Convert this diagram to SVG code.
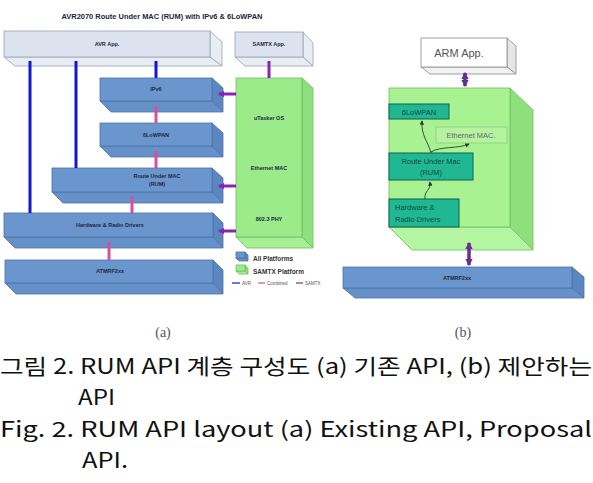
<svg xmlns="http://www.w3.org/2000/svg" width="593" height="483" viewBox="0 0 593 483">
<defs>
<style>
.bf{fill:#6B95CD;stroke:#4C73AA;stroke-width:0.8}
.bs{fill:#5C86BF;stroke:#4C73AA;stroke-width:0.8}
.bb{fill:#6690C8;stroke:#4C73AA;stroke-width:0.8}
.gf{fill:#DDE3EE;stroke:#9AA3B3;stroke-width:0.8}
.gs{fill:#E8ECF3;stroke:#9AA3B3;stroke-width:0.8}
.lf{fill:#9BEB8B;stroke:#6FBF62;stroke-width:0.8}
.ls{fill:#8EDF7E;stroke:#6FBF62;stroke-width:0.8}
.lb{fill:#A6F096;stroke:#6FBF62;stroke-width:0.8}
.t{font-family:"Liberation Sans",Arial,sans-serif;font-weight:bold;font-size:5.5px;fill:#1E2640;text-anchor:middle}
.lg{font-family:"Liberation Sans",Arial,sans-serif;font-weight:bold;font-size:6.5px;fill:#333}
.ls2{font-family:"Liberation Sans",Arial,sans-serif;font-size:4.5px;fill:#555}
.avr{stroke:#1414D2;stroke-width:3;fill:none}
.cmb{stroke:#D4509A;stroke-width:3;fill:none}
.sam{stroke:#8A22B4;stroke-width:3;fill:none}
.pf{fill:#A8F292;stroke:#6FBF62;stroke-width:0.8}
.ps{fill:#8FE07C;stroke:#6FBF62;stroke-width:0.8}
.pb{fill:#B3F5A0;stroke:#6FBF62;stroke-width:0.8}
.tl{fill:#20B893;stroke:#10604E;stroke-width:1}
.tt{font-family:"Liberation Sans",Arial,sans-serif;font-size:7.5px;fill:#0E4A3C}
.cv{stroke:#2A3A30;stroke-width:0.9;fill:none;marker-end:url(#ah)}
.pa{stroke:#6A2D90;stroke-width:3.5;fill:none;marker-start:url(#pa1);marker-end:url(#pa2)}
.cap{font-family:"Noto Sans CJK KR","Liberation Sans",sans-serif;font-size:21px;fill:#111}
.sub{font-family:"Liberation Serif","DejaVu Serif",serif;font-size:14px;fill:#555;text-anchor:middle}
</style>
<marker id="ah" viewBox="0 0 6 6" refX="5" refY="3" markerWidth="5" markerHeight="5" orient="auto"><path d="M0,0 L6,3 L0,6 z" fill="#2A3A30"/></marker>
<marker id="pa1" viewBox="0 0 6 6" refX="1" refY="3" markerWidth="2.2" markerHeight="2.2" orient="auto"><path d="M6,0 L0,3 L6,6 z" fill="#6A2D90"/></marker>
<marker id="pa2" viewBox="0 0 6 6" refX="5" refY="3" markerWidth="2.2" markerHeight="2.2" orient="auto"><path d="M0,0 L6,3 L0,6 z" fill="#6A2D90"/></marker>
<marker id="sa" viewBox="0 0 6 6" refX="1" refY="3" markerWidth="2" markerHeight="2" orient="auto"><path d="M6,0 L0,3 L6,6 z" fill="#8A22B4"/></marker>
</defs>
<rect width="593" height="483" fill="#fff"/>

<!-- (a) -->
<text x="162" y="19" class="t" style="font-size:6.5px" textLength="201" lengthAdjust="spacingAndGlyphs">AVR2070 Route Under MAC (RUM) with IPv6 &amp; 6LoWPAN</text>

<g id="avr-app">
<polygon class="gs" points="210,31 222,42 222,66 210,57"/>
<polygon class="gs" points="4,57 210,57 222,66 15,66"/>
<rect class="gf" x="4" y="31" width="206" height="26"/>
<text class="t" x="107" y="46">AVR App.</text>
</g>
<g id="samtx-app">
<polygon class="gs" points="303,32 313,43 313,66 303,57"/>
<polygon class="gs" points="235,57 303,57 313,66 245,66"/>
<rect class="gf" x="235" y="32" width="68" height="25"/>
<text class="t" x="269" y="46">SAMTX App.</text>
</g>
<g id="ipv6">
<polygon class="bs" points="212,78 223,88 223,112 212,101"/>
<polygon class="bb" points="100,101 212,101 223,112 111,112"/>
<rect class="bf" x="100" y="78" width="112" height="23"/>
<text class="t" x="156" y="91">IPv6</text>
</g>
<g id="sixlowpan">
<polygon class="bs" points="212,123 223,133 223,157 212,146"/>
<polygon class="bb" points="100,146 212,146 223,157 111,157"/>
<rect class="bf" x="100" y="123" width="112" height="23"/>
<text class="t" x="156" y="137">6LoWPAN</text>
</g>
<g id="rum">
<polygon class="bs" points="212,168 223,178 223,203 212,192"/>
<polygon class="bb" points="52,192 212,192 223,203 63,203"/>
<rect class="bf" x="52" y="168" width="160" height="24"/>
<text class="t" x="157" y="178">Route Under MAC</text>
<text class="t" x="157" y="186">(RUM)</text>
</g>
<g id="hw">
<polygon class="bs" points="213,213 223,223 223,248 213,237"/>
<polygon class="bb" points="4,237 213,237 223,248 15,248"/>
<rect class="bf" x="4" y="213" width="209" height="24"/>
<text class="t" x="110" y="227">Hardware &amp; Radio Drivers</text>
</g>
<g id="atmrf-a">
<polygon class="bs" points="213,260 223,270 223,294 213,283"/>
<polygon class="bb" points="5,283 213,283 223,294 16,294"/>
<rect class="bf" x="5" y="260" width="208" height="23"/>
<text class="t" x="110" y="273">ATMRF2xx</text>
</g>
<g id="utasker">
<polygon class="ls" points="302,78 313,88 313,248 302,237"/>
<polygon class="lb" points="236,237 302,237 313,248 247,248"/>
<rect class="lf" x="236" y="78" width="66" height="159"/>
<text class="t" x="269" y="120">uTasker OS</text>
<text class="t" x="269" y="170">Ethernet MAC</text>
<text class="t" x="269" y="221">802.3 PHY</text>
</g>

<g id="connectors-a">
<line class="avr" x1="30" y1="61" x2="30" y2="213"/>
<line class="avr" x1="76" y1="61" x2="76" y2="168"/>
<line class="avr" x1="156" y1="61" x2="156" y2="78"/>
<line class="cmb" x1="156" y1="106" x2="156" y2="123"/>
<line class="cmb" x1="156" y1="151" x2="156" y2="168"/>
<line class="cmb" x1="132" y1="196" x2="132" y2="213"/>
<line class="cmb" x1="109" y1="242" x2="109" y2="260"/>
<line class="sam" x1="269" y1="61" x2="269" y2="78"/>
<line class="sam" x1="219" y1="94" x2="236" y2="94" marker-start="url(#sa)"/>
<line class="sam" x1="219" y1="186" x2="236" y2="186" marker-start="url(#sa)"/>
<line class="sam" x1="219" y1="231" x2="236" y2="231" marker-start="url(#sa)"/>
</g>

<g id="legend">
<polygon class="bs" points="245,252 248,255 248,261 245,258"/>
<polygon class="bb" points="236,258 245,258 248,261 239,261"/>
<rect class="bf" x="236" y="252" width="9" height="6"/>
<text class="lg" x="253" y="261">All Platforms</text>
<polygon class="ls" points="245,265 248,268 248,274 245,271"/>
<polygon class="lb" points="236,271 245,271 248,274 239,274"/>
<rect class="lf" x="236" y="265" width="9" height="6"/>
<text class="lg" x="253" y="274">SAMTX Platform</text>
<line x1="232" y1="283" x2="240" y2="283" stroke="#1414D2" stroke-width="1.2"/>
<text class="ls2" x="242" y="284.5">AVR</text>
<line x1="258" y1="283" x2="265" y2="283" stroke="#D4509A" stroke-width="1.2"/>
<text class="ls2" x="267" y="284.5">Combined</text>
<line x1="296" y1="283" x2="303" y2="283" stroke="#8A22B4" stroke-width="1.2"/>
<text class="ls2" x="305" y="284.5">SAMTX</text>
</g>

<!-- (b) -->
<g id="arm-app">
<polygon points="507,38 516,46 516,74 507,67" fill="#E6E6E6" stroke="#8A8A8A" stroke-width="0.8"/>
<polygon points="421,67 507,67 516,74 430,74" fill="#F2F2F2" stroke="#8A8A8A" stroke-width="0.8"/>
<rect x="421" y="38" width="86" height="29" fill="#fff" stroke="#8A8A8A" stroke-width="0.8"/>
<text x="459" y="57" style="font-family:'Liberation Sans',Arial,sans-serif;font-size:11px;fill:#555;text-anchor:middle">ARM App.</text>
</g>
<g id="platform-b">
<polygon class="ps" points="510,88 533,110 533,250 510,227"/>
<polygon class="pb" points="389,227 510,227 533,250 412,250"/>
<rect class="pf" x="389" y="88" width="121" height="139"/>
</g>
<g id="b-6lowpan">
<rect class="tl" x="389" y="104" width="60" height="15"/>
<text class="tt" x="419" y="114.5" text-anchor="middle">6LoWPAN</text>
</g>
<g id="b-ethmac">
<rect x="436" y="127" width="71" height="16" fill="#B5F3A0" stroke="#8FCB80" stroke-width="0.8"/>
<text x="471" y="138" style="font-family:'Liberation Sans',Arial,sans-serif;font-size:7.5px;fill:#667;text-anchor:middle">Ethernet MAC.</text>
</g>
<g id="b-rum">
<rect class="tl" x="389" y="153" width="84" height="27"/>
<text class="tt" x="431" y="164" text-anchor="middle">Route Under Mac</text>
<text class="tt" x="431" y="175" text-anchor="middle">(RUM)</text>
</g>
<g id="b-hw">
<rect class="tl" x="389" y="199" width="70" height="28"/>
<text class="tt" x="395" y="210">Hardware &amp;</text>
<text class="tt" x="395" y="222">Radio Drivers</text>
</g>
<g id="atmrf-b">
<polygon class="bs" points="572,267 584,277 584,298 572,288"/>
<polygon class="bb" points="343,288 572,288 584,298 355,298"/>
<rect class="bf" x="343" y="267" width="229" height="21"/>
<text class="t" x="457" y="280">ATMRF2xx</text>
</g>
<g id="connectors-b">
<path class="cv" d="M431,153 C428,141 421,136 422,121"/>
<path class="cv" d="M431,152 C440,146 458,149 469,144"/>
<path class="cv" d="M425,199 C424,190 431,191 430,182"/>
<line class="pa" x1="465" y1="73" x2="465" y2="86"/>
<line class="pa" x1="469" y1="243" x2="469" y2="265"/>
</g>

<!-- captions -->
<text class="sub" x="163" y="337">(a)</text>
<text class="sub" x="463" y="337">(b)</text>
<text class="cap" x="0" y="374" textLength="592" lengthAdjust="spacingAndGlyphs">그림 2. RUM API 계층 구성도 (a) 기존 API, (b) 제안하는</text>
<text class="cap" x="78" y="405" textLength="37" lengthAdjust="spacingAndGlyphs">API</text>
<text class="cap" x="0" y="437" textLength="592" lengthAdjust="spacingAndGlyphs">Fig. 2. RUM API layout (a) Existing API, Proposal</text>
<text class="cap" x="82" y="468" textLength="46" lengthAdjust="spacingAndGlyphs">API.</text>
</svg>
